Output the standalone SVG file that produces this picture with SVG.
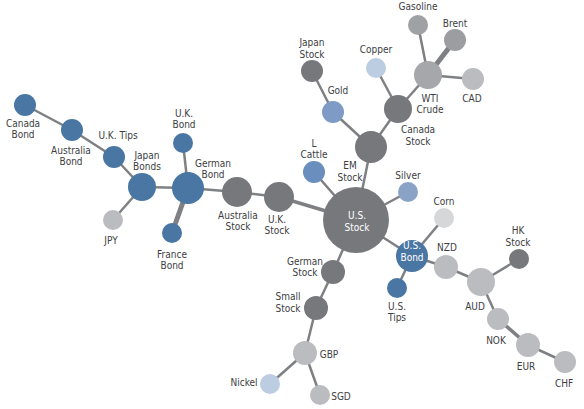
<svg xmlns="http://www.w3.org/2000/svg" width="584" height="409" viewBox="0 0 584 409">
<style>
text{font-family:"Liberation Sans Narrow","DejaVu Sans Condensed","Liberation Sans",sans-serif;font-size:10px;fill:#3d3d3f;text-anchor:middle}
.w{fill:#ffffff}
.e{stroke:#7f8083;stroke-width:2.5;stroke-linecap:butt}
.t{stroke-width:5}
.m{stroke-width:3.5}
.bond{fill:#4a76a3}
.stk{fill:#77787c}
.cur{fill:#bbbcbf}
.oil{fill:#a0a1a5}
.lb{fill:#7d9bc4}
.vlb{fill:#bccde2}
.vlg{fill:#d6d7d9}
</style>
<rect width="584" height="409" fill="#ffffff"/>
<g id="connectors">
<line class="e" x1="25" y1="105" x2="72" y2="130"/>
<line class="e" x1="72" y1="130" x2="114" y2="157"/>
<line class="e" x1="114" y1="157" x2="142" y2="187"/>
<line class="e" x1="142" y1="187" x2="113" y2="220"/>
<line class="e" x1="142" y1="187" x2="188" y2="188"/>
<line class="e" x1="188" y1="188" x2="183" y2="143"/>
<line class="e t" x1="188" y1="188" x2="172" y2="233"/>
<line class="e" x1="188" y1="188" x2="237" y2="192"/>
<line class="e" x1="237" y1="192" x2="279" y2="197"/>
<line class="e m" x1="279" y1="197" x2="356" y2="220"/>
<line class="e" x1="356" y1="220" x2="314" y2="172"/>
<line class="e" x1="356" y1="220" x2="371" y2="147"/>
<line class="e" x1="371" y1="147" x2="333" y2="112"/>
<line class="e" x1="333" y1="112" x2="312" y2="71"/>
<line class="e" x1="371" y1="147" x2="398" y2="109"/>
<line class="e" x1="398" y1="109" x2="376" y2="68"/>
<line class="e" x1="398" y1="109" x2="428" y2="75"/>
<line class="e" x1="428" y1="75" x2="418" y2="25"/>
<line class="e t" x1="428" y1="75" x2="455" y2="40"/>
<line class="e" x1="428" y1="75" x2="473" y2="79"/>
<line class="e" x1="356" y1="220" x2="408" y2="192"/>
<line class="e" x1="356" y1="220" x2="412" y2="256"/>
<line class="e" x1="412" y1="256" x2="444" y2="218"/>
<line class="e" x1="412" y1="256" x2="446" y2="267"/>
<line class="e" x1="412" y1="256" x2="397" y2="288"/>
<line class="e" x1="446" y1="267" x2="481" y2="282"/>
<line class="e" x1="481" y1="282" x2="519" y2="259"/>
<line class="e" x1="481" y1="282" x2="498" y2="319"/>
<line class="e m" x1="498" y1="319" x2="528" y2="345"/>
<line class="e" x1="528" y1="345" x2="565" y2="362"/>
<line class="e" x1="356" y1="220" x2="333" y2="272"/>
<line class="e" x1="333" y1="272" x2="316" y2="308"/>
<line class="e" x1="316" y1="308" x2="305" y2="353"/>
<line class="e" x1="305" y1="353" x2="270" y2="384"/>
<line class="e" x1="305" y1="353" x2="320" y2="395"/>
</g>
<g id="canada-bond"><circle class="bond" cx="25" cy="105" r="11"/><text x="23" y="127">Canada</text><text x="23" y="138">Bond</text></g>
<g id="australia-bond"><circle class="bond" cx="72" cy="130" r="11"/><text x="71" y="154">Australia</text><text x="71" y="165">Bond</text></g>
<g id="uk-tips"><circle class="bond" cx="114" cy="157" r="11"/><text x="118" y="139">U.K. Tips</text></g>
<g id="japan-bonds"><circle class="bond" cx="142" cy="187" r="14"/><text x="147" y="159">Japan</text><text x="147" y="170">Bonds</text></g>
<g id="jpy"><circle class="cur" cx="113" cy="220" r="10"/><text x="111" y="244">JPY</text></g>
<g id="german-bond"><circle class="bond" cx="188" cy="188" r="16"/><text x="213" y="167">German</text><text x="213" y="178">Bond</text></g>
<g id="uk-bond"><circle class="bond" cx="183" cy="143" r="10"/><text x="184" y="117">U.K.</text><text x="184" y="128">Bond</text></g>
<g id="france-bond"><circle class="bond" cx="172" cy="233" r="10"/><text x="172" y="258">France</text><text x="172" y="269">Bond</text></g>
<g id="australia-stock"><circle class="stk" cx="237" cy="192" r="15"/><text x="238" y="219">Australia</text><text x="238" y="230">Stock</text></g>
<g id="uk-stock"><circle class="stk" cx="279" cy="197" r="15"/><text x="277" y="223">U.K.</text><text x="277" y="234">Stock</text></g>
<g id="l-cattle"><circle fill="#6a8ebd" cx="314" cy="172" r="11"/><text x="314" y="147">L</text><text x="314" y="158">Cattle</text></g>
<g id="us-stock"><circle class="stk" cx="356" cy="220" r="33"/><text class="w" x="357" y="219">U.S.</text><text class="w" x="357" y="231">Stock</text></g>
<g id="em-stock"><circle class="stk" cx="371" cy="147" r="16"/><text x="350" y="169">EM</text><text x="350" y="181">Stock</text></g>
<g id="gold"><circle class="lb" cx="333" cy="112" r="11"/><text x="338" y="94">Gold</text></g>
<g id="japan-stock"><circle class="stk" cx="312" cy="71" r="11"/><text x="312" y="46">Japan</text><text x="312" y="58">Stock</text></g>
<g id="canada-stock"><circle class="stk" cx="398" cy="109" r="14"/><text x="418" y="133">Canada</text><text x="418" y="145">Stock</text></g>
<g id="copper"><circle class="vlb" cx="376" cy="68" r="10"/><text x="376" y="53">Copper</text></g>
<g id="wti-crude"><circle fill="#a6a7aa" cx="428" cy="75" r="14"/><text x="430" y="102">WTI</text><text x="430" y="113">Crude</text></g>
<g id="gasoline"><circle class="oil" cx="418" cy="25" r="10"/><text x="418" y="10">Gasoline</text></g>
<g id="brent"><circle fill="#9c9da1" cx="455" cy="40" r="11"/><text x="455" y="27">Brent</text></g>
<g id="cad"><circle class="cur" cx="473" cy="79" r="11"/><text x="472" y="102">CAD</text></g>
<g id="silver"><circle fill="#89a2c6" cx="408" cy="192" r="10"/><text x="408" y="179">Silver</text></g>
<g id="corn"><circle class="vlg" cx="444" cy="218" r="10"/><text x="444" y="205">Corn</text></g>
<g id="us-bond"><circle class="bond" cx="412" cy="256" r="16"/><text class="w" x="412" y="249">U.S.</text><text class="w" x="412" y="261">Bond</text></g>
<g id="nzd"><circle class="cur" cx="446" cy="267" r="12"/><text x="447" y="251">NZD</text></g>
<g id="us-tips"><circle class="bond" cx="397" cy="288" r="10"/><text x="397" y="310">U.S.</text><text x="397" y="321">Tips</text></g>
<g id="aud"><circle class="cur" cx="481" cy="282" r="14"/><text x="475" y="310">AUD</text></g>
<g id="hk-stock"><circle class="stk" cx="519" cy="259" r="10"/><text x="518" y="234">HK</text><text x="518" y="246">Stock</text></g>
<g id="nok"><circle class="cur" cx="498" cy="319" r="11"/><text x="496" y="344">NOK</text></g>
<g id="eur"><circle class="cur" cx="528" cy="345" r="12"/><text x="526" y="370">EUR</text></g>
<g id="chf"><circle class="cur" cx="565" cy="362" r="11"/><text x="564" y="387">CHF</text></g>
<g id="german-stock"><circle class="stk" cx="333" cy="272" r="12"/><text x="305" y="265">German</text><text x="305" y="276">Stock</text></g>
<g id="small-stock"><circle class="stk" cx="316" cy="308" r="12"/><text x="288" y="300">Small</text><text x="288" y="312">Stock</text></g>
<g id="gbp"><circle class="cur" cx="305" cy="353" r="12"/><text x="329" y="358">GBP</text></g>
<g id="nickel"><circle class="vlb" cx="270" cy="384" r="10"/><text x="244" y="386">Nickel</text></g>
<g id="sgd"><circle class="cur" cx="320" cy="395" r="10"/><text x="341" y="400">SGD</text></g>
</svg>
